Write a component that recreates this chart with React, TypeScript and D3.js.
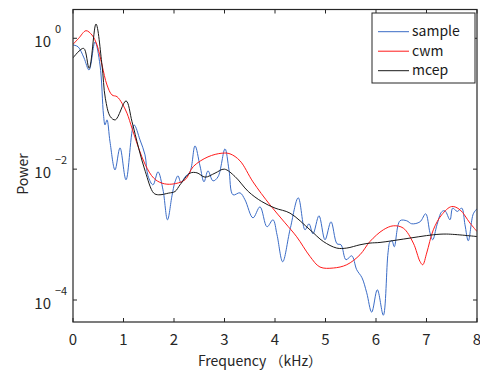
import * as d3 from 'd3';

// frequency axis (kHz) and log10(power)
const sampleFreq = [0, 0.1, 0.218, 0.317, 0.436, 0.535, 0.604, 0.634, 0.673, 0.733, 0.832, 0.931, 1.05, 1.208, 1.327, 1.426, 1.485, 1.584, 1.683, 1.782, 1.871, 1.96, 2.02, 2.079, 2.139, 2.218, 2.317, 2.416, 2.515, 2.594, 2.673, 2.772, 2.871, 3.01, 3.089, 3.168, 3.307, 3.406, 3.564, 3.703, 3.842, 3.96, 4.04, 4.152, 4.297, 4.461, 4.594, 4.673, 4.752, 4.871, 4.99, 5.109, 5.228, 5.307, 5.406, 5.519, 5.618, 5.723, 5.816, 5.915, 6.026, 6.145, 6.238, 6.277, 6.317, 6.362, 6.475, 6.608, 6.707, 6.871, 6.984, 7.069, 7.123, 7.208, 7.301, 7.366, 7.465, 7.519, 7.61, 7.697, 7.762, 7.828, 7.927, 8.0];
const sampleLog = [-0.102, -0.13, -0.3, -0.484, -0.056, -0.408, -1.171, -1.324, -1.247, -1.583, -2.011, -1.675, -2.163, -1.324, -1.553, -1.782, -2.102, -2.24, -2.041, -2.316, -2.774, -2.408, -2.194, -2.102, -2.209, -2.118, -2.041, -1.644, -1.95, -2.194, -2.026, -2.179, -2.118, -1.69, -2.011, -2.392, -2.362, -2.469, -2.744, -2.576, -2.881, -2.774, -3.003, -3.415, -2.927, -2.438, -2.927, -2.835, -2.988, -2.713, -3.079, -2.805, -3.14, -3.156, -3.385, -3.324, -3.537, -3.66, -3.889, -4.186, -3.843, -4.232, -3.278, -3.11, -3.095, -3.186, -2.789, -2.789, -2.835, -2.805, -2.682, -2.973, -3.079, -2.85, -2.652, -2.637, -2.774, -2.595, -2.647, -2.595, -2.85, -3.095, -2.682, -2.606];

const cwmFreq = [0, 0.113, 0.257, 0.376, 0.475, 0.574, 0.673, 0.772, 0.871, 0.97, 1.069, 1.168, 1.3, 1.432, 1.598, 1.762, 1.96, 2.218, 2.382, 2.673, 2.95, 3.109, 3.307, 3.564, 3.9, 4.198, 4.43, 4.693, 4.891, 5.154, 5.42, 5.683, 5.881, 6.145, 6.343, 6.54, 6.739, 6.871, 6.925, 7.004, 7.135, 7.301, 7.499, 7.663, 7.861, 8.0];
const cwmLog = [-0.092, 0, 0.116, 0.05, -0.102, -0.408, -0.713, -0.866, -0.892, -0.992, -1.145, -1.374, -1.679, -1.934, -2.137, -2.214, -2.229, -2.163, -1.96, -1.812, -1.756, -1.766, -1.873, -2.194, -2.545, -2.82, -3.034, -3.334, -3.496, -3.511, -3.461, -3.308, -3.105, -2.927, -2.866, -2.901, -3.13, -3.411, -3.461, -3.282, -2.927, -2.698, -2.571, -2.621, -2.824, -2.953];

const mcepFreq = [0, 0.21, 0.32, 0.455, 0.574, 0.64, 0.739, 0.838, 1.05, 1.168, 1.3, 1.432, 1.598, 1.697, 1.895, 2.02, 2.119, 2.317, 2.455, 2.614, 2.812, 2.996, 3.208, 3.471, 3.737, 4.0, 4.297, 4.693, 4.956, 5.222, 5.42, 5.683, 5.881, 6.08, 6.54, 7.135, 7.4, 8.0];
const mcepLog = [-0.3, -0.153, -0.458, 0.218, -0.408, -0.916, -1.197, -1.247, -0.957, -1.273, -1.679, -2.037, -2.366, -2.392, -2.366, -2.342, -2.24, -2.061, -2.056, -2.122, -2.061, -2.0, -2.113, -2.342, -2.495, -2.595, -2.672, -2.927, -3.105, -3.206, -3.206, -3.156, -3.13, -3.12, -3.069, -3.003, -2.992, -3.03];

const xTicks = [0, 1, 2, 3, 4, 5, 6, 7, 8];
const yTickExps = [0, -2, -4];

const seriesNames = ['sample', 'cwm', 'mcep'];
const seriesColors = ['#3b6cc6', '#ff1a1a', '#1a1a1a'];

const W = 480;
const H = 371;
const left = 73, right = 477, top = 9.5, bottom = 322;
const font = "'Noto Sans CJK JP', 'Noto Sans', sans-serif";

export default function App() {
  const x = d3.scaleLinear().domain([0, 8]).range([left, right]);
  const y = d3.scaleLog().domain([Math.pow(10, -4.336), Math.pow(10, 0.44)]).range([bottom, top]);

  const line = d3
    .line<[number, number]>()
    .x((d) => x(d[0]))
    .y((d) => y(Math.pow(10, d[1])))
    .curve(d3.curveCatmullRom.alpha(0.5));

  const series = [
    d3.zip(sampleFreq, sampleLog) as [number, number][],
    d3.zip(cwmFreq, cwmLog) as [number, number][],
    d3.zip(mcepFreq, mcepLog) as [number, number][],
  ];

  const tickLen = 4;
  const legX = 372, legY = 13, legW = 103, legH = 70;

  return (
    <svg width={W} height={H} style={{ position: 'absolute', left: 0, top: 0, background: '#fff' }}>
      <defs>
        <clipPath id="plot">
          <rect x={left} y={top} width={right - left} height={bottom - top} />
        </clipPath>
      </defs>
      <rect x={0} y={0} width={W} height={H} fill="#fff" />

      {/* curves */}
      <g clipPath="url(#plot)">
        {series.map((s, i) => (
          <path key={i} d={line(s) || ''} fill="none" stroke={seriesColors[i]} strokeWidth={1} />
        ))}
      </g>

      {/* box */}
      <rect x={left} y={top} width={right - left} height={bottom - top} fill="none" stroke="#262626" strokeWidth={1.2} />

      {/* x ticks (bottom + top) */}
      {xTicks.map((t) => (
        <g key={'x' + t}>
          <line x1={x(t)} x2={x(t)} y1={bottom} y2={bottom - tickLen} stroke="#262626" />
          <line x1={x(t)} x2={x(t)} y1={top} y2={top + tickLen} stroke="#262626" />
          <text x={x(t)} y={345} textAnchor="middle" fontFamily={font} fontSize={15} fill="#262626">
            {t}
          </text>
        </g>
      ))}

      {/* y ticks (left + right) */}
      {yTickExps.map((e) => {
        const yy = y(Math.pow(10, e));
        return (
          <g key={'y' + e}>
            <line x1={left} x2={left + tickLen} y1={yy} y2={yy} stroke="#262626" />
            <line x1={right} x2={right - tickLen} y1={yy} y2={yy} stroke="#262626" />
            <text x={51} y={yy + 8.5} textAnchor="end" fontFamily={font} fontSize={15} fill="#262626">
              10
            </text>
            <text x={55} y={yy - 5} textAnchor="start" fontFamily={font} fontSize={11} fill="#262626">
              {e === 0 ? '0' : '\u2212' + Math.abs(e)}
            </text>
          </g>
        );
      })}

      {/* axis titles */}
      <text x={260} y={366} textAnchor="middle" fontFamily={font} fontSize={14} fill="#262626">
        Frequency （kHz）
      </text>
      <text
        transform={`translate(28, 174) rotate(-90)`}
        textAnchor="middle"
        fontFamily={font}
        fontSize={14}
        fill="#262626"
      >
        Power
      </text>

      {/* legend */}
      <rect x={legX} y={legY} width={legW} height={legH} fill="#fff" stroke="#262626" strokeWidth={1} />
      {seriesNames.map((n, i) => {
        const ly = 31.7 + i * 19.5;
        return (
          <g key={n}>
            <line x1={378} x2={409} y1={ly} y2={ly} stroke={seriesColors[i]} strokeWidth={1} />
            <text x={412} y={ly + 4.5} fontFamily={font} fontSize={14} fill="#1a1a1a">
              {n}
            </text>
          </g>
        );
      })}
    </svg>
  );
}
